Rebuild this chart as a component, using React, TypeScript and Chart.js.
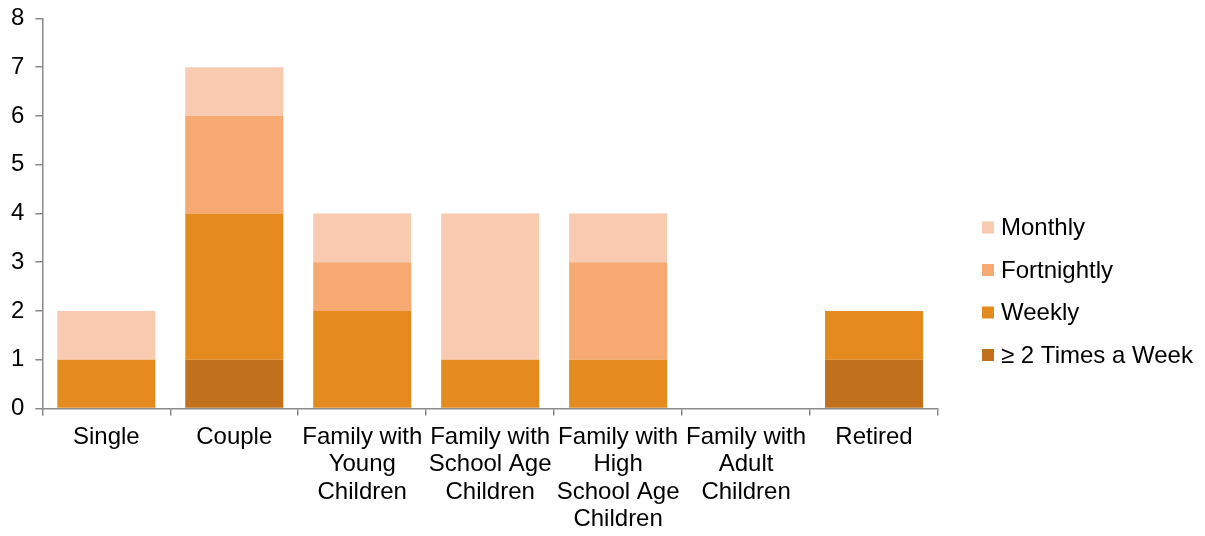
import React, { useEffect, useRef } from "react";
import { Chart, registerables } from "chart.js";

Chart.register(...registerables);

const categories: (string | string[])[] = [
  "Single",
  "Couple",
  ["Family with", "Young", "Children"],
  ["Family with", "School Age", "Children"],
  ["Family with", "High", "School Age", "Children"],
  ["Family with", "Adult", "Children"],
  "Retired",
];

const twicePerWeek = [0, 1, 0, 0, 0, 0, 1];
const weekly = [1, 3, 2, 1, 1, 0, 1];
const fortnightly = [0, 2, 1, 0, 2, 0, 0];
const monthly = [1, 1, 1, 3, 1, 0, 0];

const yTicks = [0, 1, 2, 3, 4, 5, 6, 7, 8];

const FONT = "'Liberation Sans', Arial, sans-serif";
const FS = 24;
const SHIFT = 7;

const customLegend = {
  id: "customLegend",
  afterDraw(chart: any) {
    const ctx = chart.ctx;
    const ds = chart.data.datasets.slice().reverse();
    const x = 982;
    const y0 = 227.5 + SHIFT;
    const gap = 42.5;
    ctx.save();
    ctx.font = `${FS}px ${FONT}`;
    ctx.textBaseline = "middle";
    ctx.textAlign = "left";
    ds.forEach((d: any, i: number) => {
      const y = y0 + i * gap;
      ctx.fillStyle = d.backgroundColor;
      ctx.fillRect(x, y - 6, 12, 12);
      ctx.fillStyle = "#000";
      ctx.fillText(d.label, x + 19, y + 1);
    });
    ctx.restore();
  },
};

export default function App() {
  const ref = useRef<HTMLCanvasElement>(null);
  useEffect(() => {
    if (!ref.current) return;
    const chart = new Chart(ref.current, {
      type: "bar",
      data: {
        labels: categories,
        datasets: [
          { label: "≥ 2 Times a Week", data: twicePerWeek, backgroundColor: "#C1711B" },
          { label: "Weekly", data: weekly, backgroundColor: "#E58A1F" },
          { label: "Fortnightly", data: fortnightly, backgroundColor: "#F6A970" },
          { label: "Monthly", data: monthly, backgroundColor: "#F8CAB0" },
        ],
      },
      options: {
        animation: false,
        responsive: false,
        layout: { padding: { left: 0, right: 267, top: 11, bottom: -5 } },
        datasets: {
          bar: { categoryPercentage: 1, barPercentage: 0.766 },
        } as any,
        plugins: {
          legend: { display: false },
          tooltip: { enabled: false },
        },
        scales: {
          x: {
            stacked: true,
            offset: true,
            border: { color: "#898989", width: 1.5 },
            grid: {
              offset: true,
              drawOnChartArea: false,
              drawTicks: true,
              tickLength: 7,
              color: "#898989",
              lineWidth: 1.5,
            },
            ticks: {
              color: "#000",
              font: { family: FONT, size: FS, lineHeight: 1.14 },
              padding: 8,
              maxRotation: 0,
              autoSkip: false,
            },
          },
          y: {
            stacked: true,
            min: 0,
            max: 8,
            afterBuildTicks: (axis: any) => {
              axis.ticks = yTicks.map((v) => ({ value: v }));
            },
            border: { color: "#898989", width: 1.5 },
            grid: {
              drawOnChartArea: false,
              drawTicks: true,
              tickLength: 7,
              color: "#898989",
              lineWidth: 1.5,
            },
            ticks: {
              color: "#000",
              font: { family: FONT, size: FS },
              padding: 11,
            },
          },
        },
      },
      plugins: [customLegend],
    });
    return () => chart.destroy();
  }, []);
  return (
    <div style={{ position: "absolute", left: 0, top: 0, width: 1205, height: 536, overflow: "hidden", background: "#fff" }}>
      <canvas
        ref={ref}
        width={1205}
        height={536 + SHIFT}
        style={{ position: "absolute", left: 0, top: -SHIFT, width: 1205, height: 536 + SHIFT }}
      />
    </div>
  );
}
